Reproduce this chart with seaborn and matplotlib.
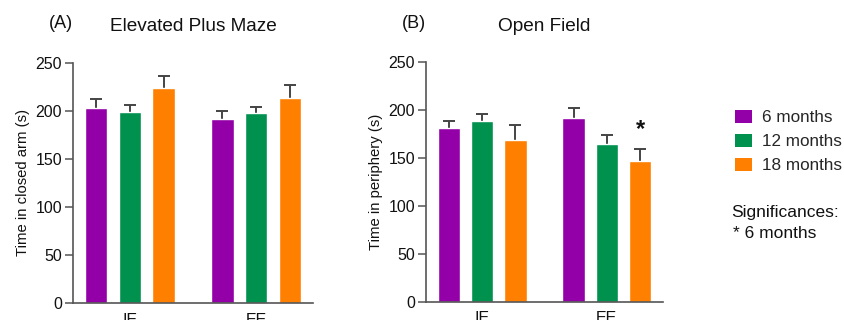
import pandas as pd
import seaborn as sns
import matplotlib.pyplot as plt
from matplotlib.patches import Patch

# values (mean and upper SEM)
groups = ['IE', 'EE']
ages = ['6 months', '12 months', '18 months']
colors = ['#9300A8', '#00914F', '#FF7F00']

epm_ie = [203, 199, 224]
epm_ee = [192, 198, 214]
epm_ie_err = [10, 7, 12]
epm_ee_err = [8, 6, 13]

of_ie = [182, 189, 169]
of_ee = [192, 165, 147]
of_ie_err = [7, 7, 16]
of_ee_err = [10, 9, 12]

sig_group = 'EE'
sig_age = '18 months'

sns.set_style('white')
plt.rcParams['font.family'] = ['Liberation Sans', 'DejaVu Sans']


def make_df(ie, ee, ie_err, ee_err):
    rows = []
    for g, vals, errs in [('IE', ie, ie_err), ('EE', ee, ee_err)]:
        for a, v, e in zip(ages, vals, errs):
            rows.append({'group': g, 'age': a, 'value': v, 'err': e})
    return pd.DataFrame(rows)


epm = make_df(epm_ie, epm_ee, epm_ie_err, epm_ee_err)
of = make_df(of_ie, of_ee, of_ie_err, of_ee_err)

fig = plt.figure(figsize=(8.44, 3.2), dpi=100)
ax1 = fig.add_axes([73 / 844, 17 / 320, 240 / 844, 240 / 320])
ax2 = fig.add_axes([426 / 844, 18.5 / 320, 237 / 844, 239 / 320])


def draw(ax, df, ylabel, title):
    sns.barplot(data=df, x='group', y='value', hue='age', order=groups,
                hue_order=ages, palette=colors, errorbar=None, width=0.8,
                gap=0.33, ax=ax, legend=False, saturation=1, zorder=2)
    # seaborn draws bars hue by hue, so walk the table in the same order
    ordered = df.assign(a=df['age'].map(ages.index), g=df['group'].map(groups.index))
    ordered = ordered.sort_values(['a', 'g'])
    for bar, (_, row) in zip(ax.patches, ordered.iterrows()):
        xc = bar.get_x() + bar.get_width() / 2
        # lower half sits behind the bar so only the upper whisker shows
        ax.errorbar(xc, row['value'], yerr=row['err'], color='#444444',
                    capsize=4, elinewidth=1.4, capthick=1.4, zorder=1)
    ax.set_xlim(-0.45, 1.45)
    ax.set_ylim(0, 250)
    ax.set_yticks([0, 50, 100, 150, 200, 250])
    ax.set_xlabel('')
    ax.set_ylabel(ylabel, fontsize=10.7, color='#111111')
    ax.set_title(title, fontsize=13.7, pad=23, color='#111111')
    sns.despine(ax=ax)
    for s in ['left', 'bottom']:
        ax.spines[s].set_color('#555555')
        ax.spines[s].set_linewidth(1.2)
        ax.spines[s].set_zorder(3)
    ax.tick_params(axis='y', length=6, width=1.1, color='#555555',
                   labelsize=11.5, labelcolor='#111111', pad=2, left=True)
    ax.tick_params(axis='x', length=0, labelsize=11.5, labelcolor='#111111', pad=7)
    return ax


draw(ax1, epm, 'Time in closed arm (s)', 'Elevated Plus Maze')
draw(ax2, of, 'Time in periphery (s)', 'Open Field')

# significance star
row = of[(of['group'] == sig_group) & (of['age'] == sig_age)].iloc[0]
star_x = groups.index(sig_group) + (ages.index(sig_age) - 1) * 0.8 / 3
ax2.text(star_x, row['value'] + row['err'] + 9, '*', ha='center', va='bottom',
         fontsize=17, fontweight='bold', color='#111111')

fig.text(61 / 844, 1 - 23 / 320, '(A)', ha='center', va='center', fontsize=13, color='#111111')
fig.text(414 / 844, 1 - 23 / 320, '(B)', ha='center', va='center', fontsize=13, color='#111111')

handles = [Patch(facecolor=c, edgecolor='none') for c in colors]
fig.legend(handles, ages, loc='upper left', bbox_to_anchor=(735 / 844, 1 - 110 / 320),
           frameon=False, fontsize=12.3, handlelength=1.0, handleheight=0.8,
           handletextpad=0.6, labelspacing=0.5, borderpad=0, borderaxespad=0)

fig.text(731 / 844, 1 - 212 / 320, 'Significances:', ha='left', va='center', fontsize=12.5, color='#111111')
fig.text(733 / 844, 1 - 234 / 320, '* 6 months', ha='left', va='center', fontsize=12.5,
         color='#111111')

fig.savefig('out.png', dpi=100)
